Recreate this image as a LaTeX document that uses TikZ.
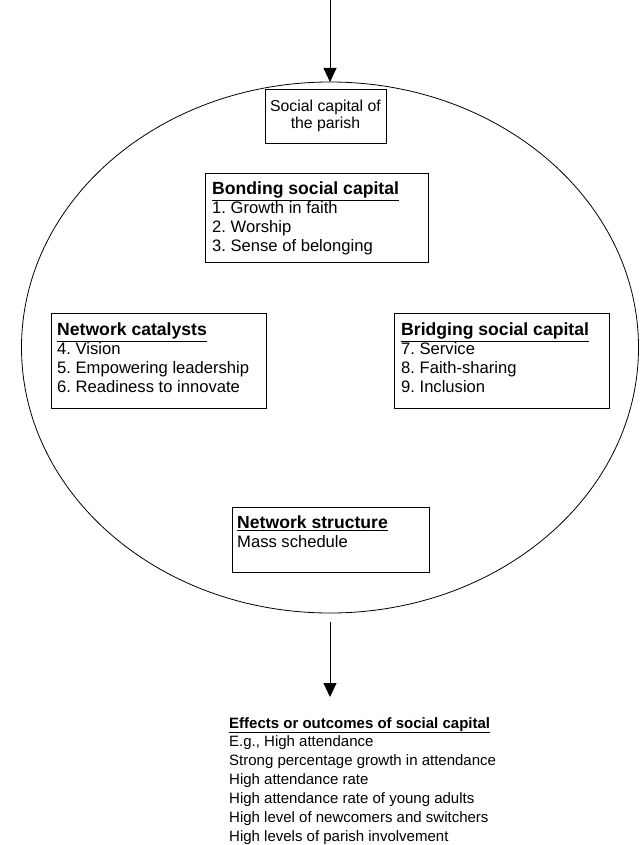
\documentclass[tikz,border=0pt]{standalone}
\usepackage{fontspec}
\setmainfont{Liberation Sans}
\usetikzlibrary{arrows.meta,shapes.geometric}
\frenchspacing
\newcommand{\boxhead}[1]{{\fontsize{17.6}{19}\selectfont\underline{\textbf{#1}}}}
\begin{document}
\begin{tikzpicture}[x=1pt,y=-1pt,
  box/.style={draw, line width=0.8pt, anchor=north west, inner sep=0pt, outer sep=0pt},
  txt/.style={anchor=north west, inner sep=0pt, align=left, font=\fontsize{16.6}{19}\selectfont},
  etxt/.style={anchor=north west, inner sep=0pt, align=left, font=\fontsize{15}{18.9}\selectfont},
  ctxt/.style={inner sep=0pt, align=center, font=\fontsize{15.8}{17.5}\selectfont},
  arr/.style={line width=0.8pt, -{Triangle[length=14pt,width=13pt]}}]
\useasboundingbox (0,0) rectangle (641,845);
% ellipse
\node[draw, ellipse, line width=0.8pt, inner sep=0pt, outer sep=0pt,
      minimum width=617, minimum height=531] (ell) at (330,347.5) {};
% top arrow
\coordinate (topstart) at (330,0);
\draw[arr] (topstart) -- (topstart |- ell.north);
% social capital box
\node[box, minimum width=121, minimum height=54] (soc) at (265,89) {};
\node[ctxt] (soct) at (soc.center) {Social capital of\\the parish};
% bonding
\node[box, minimum width=223, minimum height=89] (bond) at (205,173) {};
\node[txt] (bondt) at (212,182) {\boxhead{Bonding social capital}\\1. Growth in faith\\2. Worship\\3. Sense of belonging};
% network catalysts
\node[box, minimum width=215, minimum height=95] (cat) at (51,313) {};
\node[txt] (catt) at (57,323) {\boxhead{Network catalysts}\\4. Vision\\5. Empowering leadership\\6. Readiness to innovate};
% bridging
\node[box, minimum width=215, minimum height=95] (bri) at (394,313) {};
\node[txt] (brit) at (401,323) {\boxhead{Bridging social capital}\\7. Service\\8. Faith-sharing\\9. Inclusion};
% network structure
\node[box, minimum width=197, minimum height=65] (str) at (232,507) {};
\node[txt] (strt) at (237,516) {\boxhead{Network structure}\\Mass schedule};
% bottom arrow
\coordinate (botstart) at (330,622);
\coordinate (botend) at (330,697);
\draw[arr] (botstart) -- (botend);
% effects
\node[etxt] (eff) at (229,717) {\underline{\textbf{Effects or outcomes of social capital}}\\E.g., High attendance\\Strong percentage growth in attendance\\High attendance rate\\High attendance rate of young adults\\High level of newcomers and switchers\\High levels of parish involvement};
\end{tikzpicture}
\end{document}
